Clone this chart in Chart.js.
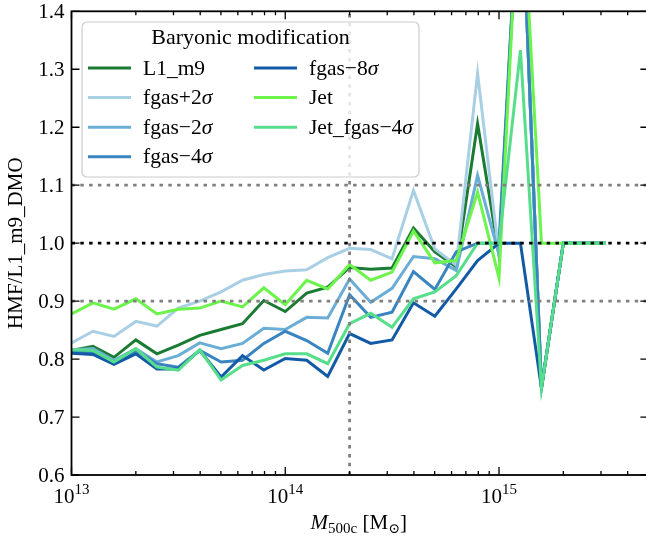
<!DOCTYPE html>
<html>
<head>
<meta charset="utf-8">
<script src="https://cdn.jsdelivr.net/npm/chart.js@4"></script>
<style>
  body { margin: 0; background: #fff; }
  #wrap { width: 646px; height: 539px; overflow: hidden; }
</style>
</head>
<body>
<div id="wrap"><canvas id="hmfChart" width="652" height="539"></canvas></div>
<script>
// halo mass bins (M500c, Msun)
const massBins = [1.00e13, 1.26e13, 1.58e13, 2.00e13, 2.51e13, 3.16e13, 3.98e13, 5.01e13, 6.31e13, 7.94e13,
                  1.00e14, 1.26e14, 1.58e14, 2.00e14, 2.51e14, 3.16e14, 3.98e14, 5.01e14, 6.31e14, 7.94e14,
                  1.00e15, 1.26e15, 1.58e15, 2.00e15, 2.51e15, 3.16e15];

// HMF ratio to L1_m9_DMO
const l1m9     = [0.815, 0.822, 0.803, 0.833, 0.809, 0.824, 0.841, 0.851, 0.861, 0.901, 0.882, 0.914, 0.924, 0.958, 0.955, 0.957, 1.026, 0.985, 0.959, 1.206, 0.98, 1.667, 0.75, 1.0, 1.0, 1.0];
const fgasP2   = [0.828, 0.848, 0.839, 0.865, 0.857, 0.888, 0.900, 0.916, 0.936, 0.946, 0.952, 0.954, 0.975, 0.991, 0.989, 0.973, 1.091, 0.990, 0.962, 1.293, 0.98, 1.667, 0.75, 1.0, 1.0, 1.0];
const fgasM2   = [0.816, 0.818, 0.798, 0.818, 0.795, 0.806, 0.828, 0.818, 0.827, 0.853, 0.851, 0.872, 0.871, 0.938, 0.898, 0.922, 0.977, 0.973, 0.953, 1.117, 0.98, 1.667, 0.75, 1.0, 1.0, 1.0];
const fgasM4   = [0.812, 0.812, 0.792, 0.815, 0.792, 0.786, 0.815, 0.795, 0.798, 0.827, 0.848, 0.832, 0.810, 0.911, 0.872, 0.881, 0.951, 0.920, 0.985, 1.0, 1.0, 1.667, 0.75, 1.0, 1.0, 1.0];
const fgasM8   = [0.810, 0.808, 0.791, 0.809, 0.783, 0.783, 0.815, 0.769, 0.806, 0.781, 0.801, 0.798, 0.770, 0.844, 0.827, 0.833, 0.897, 0.874, 0.921, 0.970, 1.0, 1.0, 0.75, 1.0, 1.0, 1.0];
const jet      = [0.878, 0.897, 0.886, 0.904, 0.878, 0.886, 0.888, 0.900, 0.890, 0.923, 0.894, 0.936, 0.921, 0.963, 0.936, 0.950, 1.021, 0.966, 0.970, 1.088, 0.94, 1.667, 1.0, 1.0, 1.0, 1.0];
const jetFgas4 = [0.816, 0.815, 0.795, 0.818, 0.786, 0.781, 0.816, 0.764, 0.789, 0.798, 0.809, 0.809, 0.792, 0.861, 0.879, 0.855, 0.904, 0.916, 0.944, 1.0, 1.0, 1.333, 0.75, 1.0, 1.0, 1.0];

const seriesNames = ["L1_m9", "fgas+2σ", "fgas−2σ", "fgas−4σ", "fgas−8σ", "Jet", "Jet_fgas−4σ"];
const seriesData = [l1m9, fgasP2, fgasM2, fgasM4, fgasM8, jet, jetFgas4];
const seriesColors = ["#1a7b32", "#a9cfe5", "#6aaed6", "#3a85c1", "#135aa6", "#6cf34c", "#56de8a"];

const yTicks = [0.6, 0.7, 0.8, 0.9, 1.0, 1.1, 1.2, 1.3, 1.4];
const xMajorTicks = [1e13, 1e14, 1e15];
const xTickExps = ["13", "14", "15"];
const refLevels = [1.1, 1.0, 0.9];
const refMass = 2e14;

const SERIF = '"Liberation Serif", "DejaVu Serif", serif';

// draw a row of text pieces [text, font, dy], aligned as a whole
function drawParts(ctx, parts, x, y, align) {
    let w = 0;
    parts.forEach(p => { ctx.font = p[1]; w += ctx.measureText(p[0]).width; });
    let cx = align === "center" ? x - w / 2 : (align === "right" ? x - w : x);
    ctx.textAlign = "left";
    parts.forEach(p => {
        ctx.font = p[1];
        ctx.fillText(p[0], cx, y + (p[2] || 0));
        cx += ctx.measureText(p[0]).width;
    });
}

function labelParts(name, size) {
    if (name.endsWith("σ")) {
        return [[name.slice(0, -1), size + "px " + SERIF], ["σ", "italic " + size + "px " + SERIF]];
    }
    return [[name, size + "px " + SERIF]];
}

const axesPlugin = {
    id: "axesPlugin",
    afterDatasetsDraw(chart) {
        const ctx = chart.ctx;
        const a = chart.chartArea;
        const x = chart.scales.x, y = chart.scales.y;
        ctx.save();

        // dotted reference lines
        ctx.lineWidth = 2.8;
        ctx.setLineDash([3.5, 5.3]);
        let vx = x.getPixelForValue(refMass);
        ctx.strokeStyle = "#808080";
        ctx.beginPath(); ctx.moveTo(vx, a.bottom); ctx.lineTo(vx, a.top); ctx.stroke();
        refLevels.forEach(v => {
            let py = y.getPixelForValue(v);
            ctx.strokeStyle = v === 1.0 ? "#000" : "#808080";
            ctx.beginPath(); ctx.moveTo(a.left, py); ctx.lineTo(a.right, py); ctx.stroke();
        });
        ctx.setLineDash([]);

        // frame
        ctx.strokeStyle = "#000";
        ctx.lineWidth = 1.8;
        ctx.strokeRect(a.left, a.top, a.right - a.left, a.bottom - a.top);

        // inward ticks
        ctx.lineWidth = 1.3;
        ctx.beginPath();
        yTicks.forEach(v => {
            let py = y.getPixelForValue(v);
            ctx.moveTo(a.left, py); ctx.lineTo(a.left + 8, py);
            ctx.moveTo(a.right, py); ctx.lineTo(a.right - 8, py);
        });
        for (let e = 13; e <= 15; e++) {
            for (let k = 1; k <= 9; k++) {
                let m = k * Math.pow(10, e);
                if (m > x.max) break;
                let px = x.getPixelForValue(m);
                let len = k === 1 ? 8 : 4;
                ctx.moveTo(px, a.bottom); ctx.lineTo(px, a.bottom - len);
                ctx.moveTo(px, a.top); ctx.lineTo(px, a.top + len);
            }
        }
        ctx.stroke();

        // tick labels
        ctx.fillStyle = "#000";
        ctx.textBaseline = "middle";
        yTicks.forEach(v => {
            drawParts(ctx, [[v.toFixed(1), "21px " + SERIF]], a.left - 7, y.getPixelForValue(v) + 1, "right");
        });
        ctx.textBaseline = "alphabetic";
        xMajorTicks.forEach((m, i) => {
            drawParts(ctx, [["10", "21px " + SERIF], [xTickExps[i], "15px " + SERIF, -9]],
                x.getPixelForValue(m), a.bottom + 28, "center");
        });

        // axis titles
        drawParts(ctx, [["M", "italic 21px " + SERIF], ["500c", "15px " + SERIF, 4],
                        [" [M", "21px " + SERIF], ["⊙", "14px " + SERIF, 4], ["]", "21px " + SERIF]],
            (a.left + 646) / 2, 529, "center");
        ctx.save();
        ctx.translate(22, (a.top + a.bottom) / 2);
        ctx.rotate(-Math.PI / 2);
        drawParts(ctx, [["HMF/L1_m9_DMO", "21px " + SERIF]], 0, 0, "center");
        ctx.restore();

        // legend box
        const lx = 82, ly = 22, lw = 337, lh = 155;
        ctx.beginPath();
        ctx.roundRect(lx, ly, lw, lh, 5);
        ctx.fillStyle = "rgba(255,255,255,0.8)";
        ctx.fill();
        ctx.strokeStyle = "#cccccc";
        ctx.lineWidth = 1.2;
        ctx.stroke();
        ctx.fillStyle = "#000";
        ctx.textBaseline = "middle";
        drawParts(ctx, [["Baryonic modification", "22px " + SERIF]], lx + lw / 2, 38, "center");
        seriesNames.forEach((name, k) => {
            let col = k < 4 ? 0 : 1;
            let row = k < 4 ? k : k - 4;
            let ry = 68 + row * 29.6;
            let hx = col === 0 ? 88 : 254;
            ctx.strokeStyle = seriesColors[k];
            ctx.lineWidth = 3;
            ctx.beginPath(); ctx.moveTo(hx, ry); ctx.lineTo(hx + 43, ry); ctx.stroke();
            drawParts(ctx, labelParts(name, 21.5), hx + 55, ry + 1, "left");
        });
        ctx.restore();
    }
};

let ctx = document.getElementById("hmfChart").getContext("2d");

new Chart(ctx, {
    type: "line",
    data: {
        datasets: seriesData.map((vals, i) => ({
            label: seriesNames[i],
            data: massBins.map((m, j) => ({ x: m, y: vals[j] })),
            borderColor: seriesColors[i],
            borderWidth: 3,
            pointRadius: 0,
            tension: 0,
            fill: false,
            order: seriesData.length - i // later series on top
        }))
    },
    options: {
        responsive: false,
        animation: false,
        layout: { padding: { left: 71.5, right: 3.6, top: 11.3, bottom: 64 } },
        plugins: { legend: { display: false }, tooltip: { enabled: false } },
        scales: {
            x: { type: "logarithmic", min: 1e13, max: 5e15, display: false },
            y: { min: 0.6, max: 1.4, display: false }
        }
    },
    plugins: [axesPlugin]
});
</script>
</body>
</html>
